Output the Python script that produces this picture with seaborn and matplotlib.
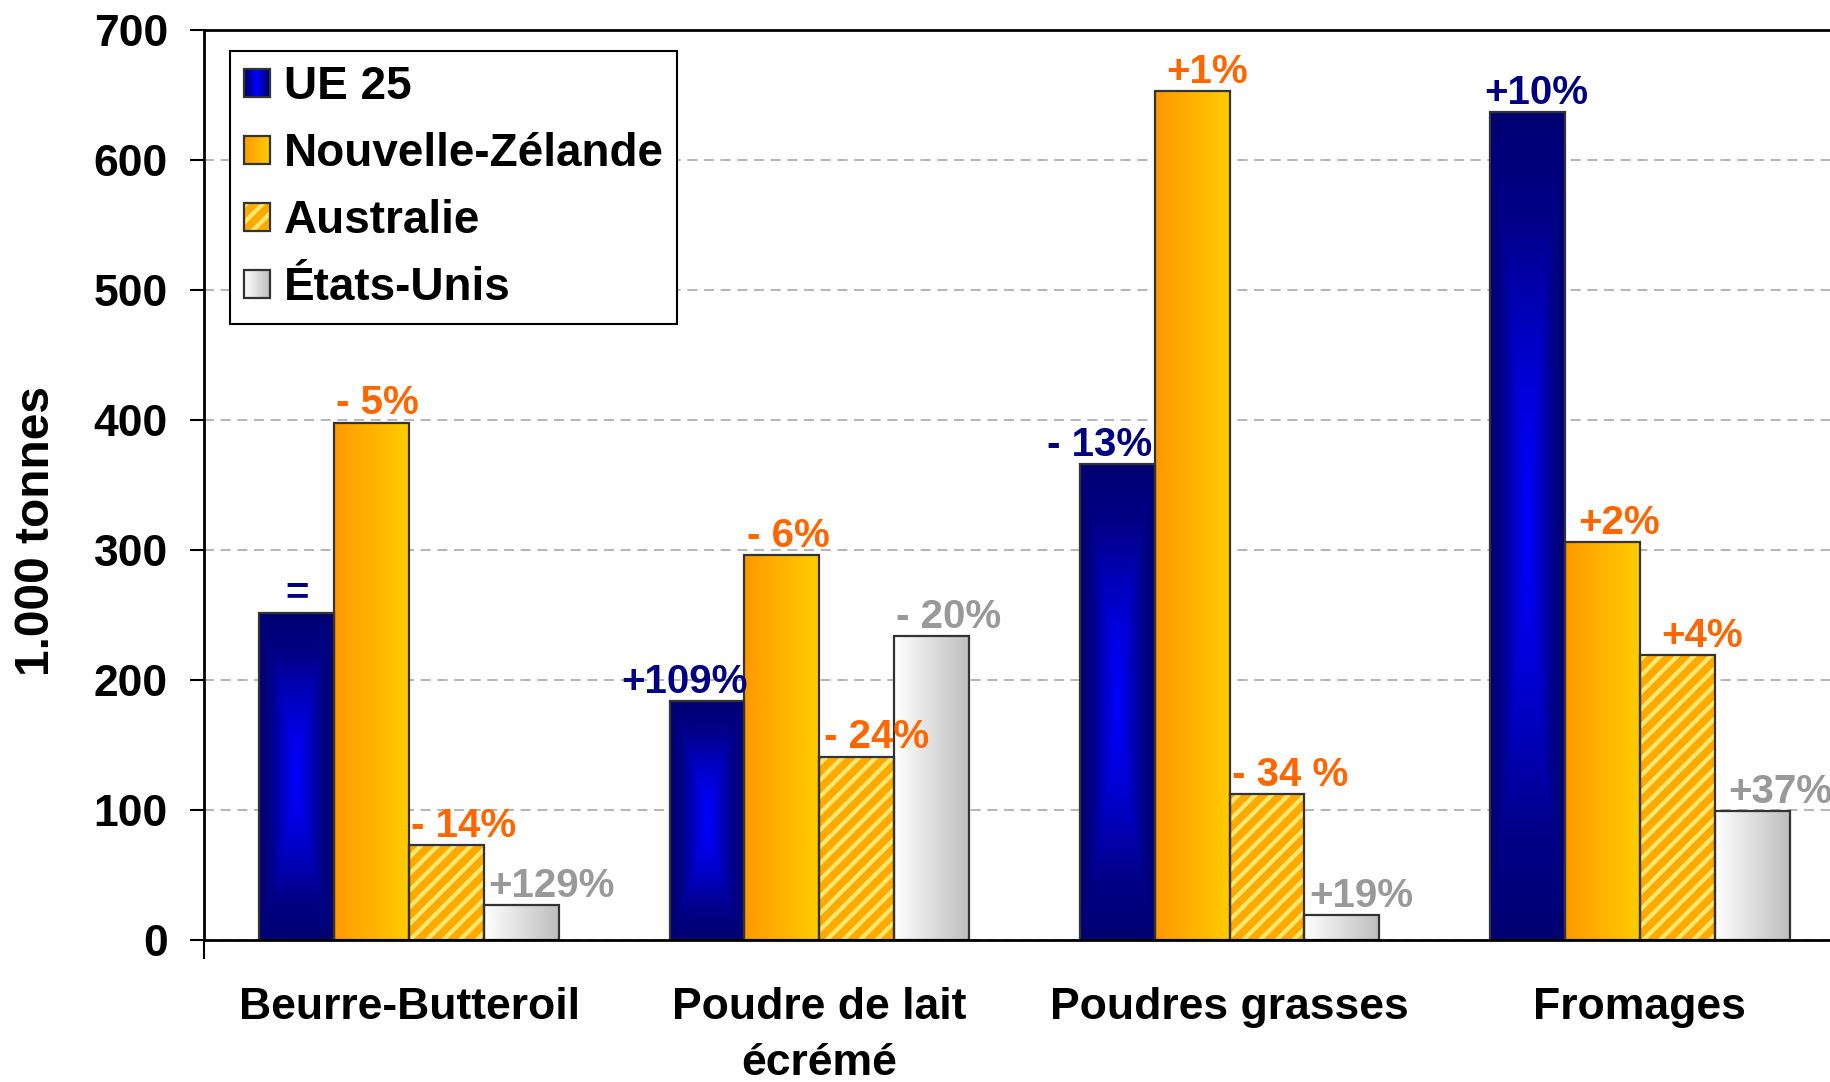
import numpy as np
import pandas as pd
import matplotlib
matplotlib.use("Agg")
import matplotlib.pyplot as plt
import seaborn as sns
from matplotlib.patches import Rectangle
from matplotlib.colors import LinearSegmentedColormap
from matplotlib.legend_handler import HandlerBase

# ---------------- data ----------------
produits = ["Beurre-Butteroil", "Poudre de lait\nécrémé", "Poudres grasses", "Fromages"]
pays = ["UE 25", "Nouvelle-Zélande", "Australie", "États-Unis"]
ue25 = [252, 184, 366, 637]
nouvelle_zelande = [398, 296, 653, 306]
australie = [73, 141, 112, 219]
etats_unis = [27, 234, 19, 99]

lab_ue25 = ["=", "+109%", "- 13%", "+10%"]
lab_nz = ["- 5%", "- 6%", "+1%", "+2%"]
lab_au = ["- 14%", "- 24%", "- 34 %", "+4%"]
lab_us = ["+129%", "- 20%", "+19%", "+37%"]

yticks = [0, 100, 200, 300, 400, 500, 600, 700]
ylabel = "1.000 tonnes"

# ---------------- styling ----------------
# horizontal offsets of the percentage labels (points)
lab_dx = [[0, -16, -13, 6],
          [4, 5, 11, 12],
          [12, 14, 17, 18],
          [22, 12, 14, 20]]
lab_colors = ["#000080", "#FF6600", "#FF6600", "#999999"]
base_colors = ["#0000CC", "#FFB300", "#FFAA00", "#E0E0E0"]
au_face = "#FFAA00"
hatch_light = "#FFE870"
edge_col = "#333333"

cm_ue = LinearSegmentedColormap.from_list("ue", ["#0000FF", "#0000C8", "#00008A", "#000070"])
cm_nz = LinearSegmentedColormap.from_list("nz", ["#FF9900", "#FFCC00"])
cm_us = LinearSegmentedColormap.from_list("us", ["#FFFFFF", "#BEBEBE"])

sns.set_theme(style="white")
plt.rcParams["font.family"] = ["Liberation Sans", "DejaVu Sans"]
plt.rcParams["font.weight"] = "bold"
plt.rcParams["text.color"] = "black"
plt.rcParams["axes.labelcolor"] = "black"
plt.rcParams["xtick.color"] = "black"
plt.rcParams["ytick.color"] = "black"
plt.rcParams["hatch.linewidth"] = 3.0

df = pd.DataFrame({
    "produit": produits * 4,
    "pays": [p for p in pays for _ in produits],
    "valeur": ue25 + nouvelle_zelande + australie + etats_unis,
})

W, H = 1831, 1082
fig = plt.figure(figsize=(W / 100, H / 100), dpi=100)
ax = fig.add_axes([204 / W, 1 - 940 / H, 1627 / W, 909.6 / H])

sns.barplot(data=df, x="produit", y="valeur", hue="pays", order=produits,
            hue_order=pays, palette=base_colors, saturation=1, width=0.73,
            gap=0, errorbar=None, edgecolor="none", linewidth=0, legend=False,
            ax=ax)

ax.set_xlim(-0.5, 3.466)
ax.set_ylim(0, 700)


def grad_array(kind, n=200):
    if kind == "ue":
        u = np.linspace(-1, 1, 120)
        v = np.linspace(-1, 1, 400)
        U, V = np.meshgrid(u, v)
        return np.maximum(np.abs(U), np.abs(V) ** 1.3)
    return np.linspace(0, 1, n)[None, :]


kinds = ["ue", "nz", "au", "us"]
cmaps = {"ue": cm_ue, "nz": cm_nz, "us": cm_us}
labels_all = [lab_ue25, lab_nz, lab_au, lab_us]

for si, cont in enumerate(ax.containers):
    kind = kinds[si]
    for pi, p in enumerate(cont.patches):
        x0, y0, w, h = p.get_x(), p.get_y(), p.get_width(), p.get_height()
        if kind == "au":
            p.set_facecolor(au_face)
            p.set_edgecolor(hatch_light)
            p.set_hatch("//")
            p.set_linewidth(0)
        else:
            img = ax.imshow(grad_array(kind), cmap=cmaps[kind], vmin=0, vmax=1,
                            extent=(x0, x0 + w, y0, y0 + h), aspect="auto",
                            interpolation="bilinear", origin="lower", zorder=1.5)
            img.set_clip_path(p)
            p.set_facecolor("none")
        ax.add_patch(Rectangle((x0, y0), w, h, fill=False, edgecolor=edge_col,
                               linewidth=1.6, zorder=2.5))
        ax.annotate(labels_all[si][pi], xy=(x0 + w / 2, y0 + h),
                    xytext=(lab_dx[si][pi], 6), textcoords="offset points",
                    ha="center", va="baseline", fontsize=29, fontweight="bold",
                    color=lab_colors[si], zorder=4, annotation_clip=False)

ax.set_xlim(-0.5, 3.466)
ax.set_ylim(0, 700)
ax.set_aspect("auto")

# grid & spines
ax.set_axisbelow(True)
ax.yaxis.grid(True, color="#A8A8A8", linewidth=1.2, linestyle=(0, (6, 4)))
ax.xaxis.grid(False)
for s in ["left", "bottom", "top"]:
    ax.spines[s].set_visible(True)
    ax.spines[s].set_color("black")
    ax.spines[s].set_linewidth(2)
ax.spines["right"].set_visible(False)

ax.set_yticks(yticks)
ax.set_yticklabels([str(t) for t in yticks])
ax.tick_params(axis="y", direction="out", length=10, width=1.5, color="black",
               labelsize=32, pad=16, left=True, labelcolor="black")
for t in ax.get_yticklabels():
    t.set_fontweight("bold")

ax.set_xticks(range(len(produits)))
ax.set_xticklabels(produits)
ax.tick_params(axis="x", which="major", length=0, labelsize=32, pad=34,
               labelcolor="black")
for t in ax.get_xticklabels():
    t.set_fontweight("bold")
    t.set_linespacing(1.45)
ax.set_xticks([-0.5], minor=True)
ax.tick_params(axis="x", which="minor", direction="out", length=14, width=1.5,
               color="black", bottom=True)
ax.set_xlabel("")
ax.set_ylabel("")

fig.text(37 / W, 1 - 531 / H, ylabel, rotation=90, ha="center", va="center",
         fontsize=34.5, fontweight="bold", color="black")


# ---------------- legend ----------------
class SwatchHandler(HandlerBase):
    def __init__(self, kind):
        super().__init__()
        self.kind = kind

    def create_artists(self, legend, orig_handle, xdescent, ydescent, width,
                       height, fontsize, trans):
        x0, y0 = -xdescent, -ydescent
        arts = []
        if self.kind == "au":
            r = Rectangle((x0, y0), width, height, facecolor=au_face,
                          edgecolor=hatch_light, hatch="//", linewidth=0,
                          transform=trans)
            arts.append(r)
        else:
            n = 30
            for i in range(n):
                f = (i + 0.5) / n
                if self.kind == "ue":
                    c = cm_ue(abs(2 * f - 1))
                else:
                    c = cmaps[self.kind](f)
                arts.append(Rectangle((x0 + width * i / n, y0), width / n + 0.5,
                                      height, facecolor=c, edgecolor="none",
                                      linewidth=0, transform=trans))
        arts.append(Rectangle((x0, y0), width, height, fill=False,
                              edgecolor=edge_col, linewidth=1.6, transform=trans))
        return arts


handles = [Rectangle((0, 0), 1, 1) for _ in pays]
hmap = {h: SwatchHandler(k) for h, k in zip(handles, kinds)}
leg = ax.legend(handles, pays, handler_map=hmap, loc="upper left",
                bbox_to_anchor=(0.016, 0.977), borderaxespad=0,
                prop={"size": 33, "weight": "bold"}, frameon=True,
                fancybox=False, framealpha=1, edgecolor="black",
                handlelength=0.57, handleheight=0.57, handletextpad=0.3,
                labelspacing=0.5, borderpad=0.3)
leg.get_frame().set_linewidth(1.5)
for t in leg.get_texts():
    t.set_color("black")

fig.savefig("out.png", dpi=100)
